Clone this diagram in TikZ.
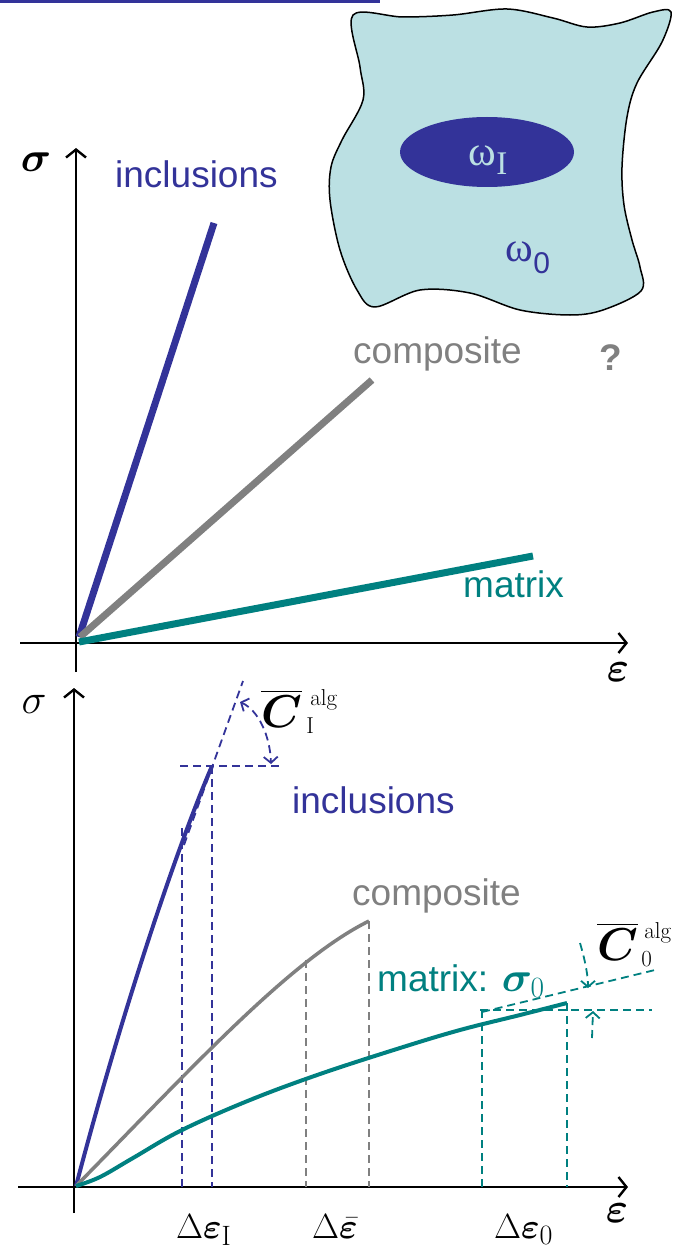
\RequirePackage{fix-cm}
\documentclass[tikz,border=0pt]{standalone}
\usepackage{amsmath}
\usepackage{bm}
\usepackage{fontspec}
\setsansfont{Liberation Sans}
\newfontfamily\greekserif{Liberation Serif}
\usetikzlibrary{arrows.meta, positioning, calc, shapes.geometric}
\definecolor{inclblue}{HTML}{333399}
\definecolor{compgray}{HTML}{808080}
\definecolor{matteal}{HTML}{008080}
\definecolor{domcyan}{HTML}{BBE0E3}
\tikzset{
  axisline/.style={line width=2.4pt, -{Straight Barb[length=8pt, width=20pt]}},
  fatline/.style={line width=7pt, draw=#1},
  curveln/.style={line width=4pt, draw=#1},
  dashln/.style={draw=#1, line width=1.8pt, dash pattern=on 8pt off 5pt},
  dasharr/.style={dashln=#1, -{Straight Barb[length=6pt, width=14pt]}},
  lbl/.style={font=\fontsize{37}{44}\selectfont\sffamily, inner sep=0pt, text=#1},
  mlbl/.style={font=\fontsize{42}{48}\selectfont, inner sep=0pt},
  dlbl/.style={font=\fontsize{35}{40}\selectfont, inner sep=0pt},
  alglbl/.style={font=\fontsize{46}{52}\selectfont, inner sep=0pt},
  scr/.style={font=\fontsize{23}{26}\selectfont\rmfamily, inner sep=0pt},
}
\newcommand{\dsub}[1]{\mbox{\fontsize{28}{28}\selectfont\rmfamily #1}}

\begin{document}
\begin{tikzpicture}[x=1pt, y=-1pt, line join=round]
  \useasboundingbox (0,0) rectangle (675,1252);
  \fill[inclblue] (0,0) rectangle (380,3);

  % domain with inclusion
  \draw[line width=1.5pt, fill=domcyan] plot[smooth cycle, tension=0.55] coordinates {
    (353,15) (403,17) (453,15) (507,9) (553,18) (587,27) (620,23) (653,12) (671,12)
    (662,42) (637,83) (627,117) (622,167) (624,205) (632,240) (640,267) (641,291)
    (603,310) (570,315) (520,310) (470,293) (420,290) (375,307)
    (357,290) (340,250) (330,200) (331,167) (342,140) (363,100) (360,67)};
  \node[ellipse, fill=inclblue, minimum width=174pt, minimum height=70pt, inner sep=0pt]
    (incl) at (487,152) {};
  \node[text=domcyan, inner sep=0pt] (omI) at (488,160)
    {{\greekserif\fontsize{42}{48}\selectfont ω}\raisebox{-9pt}{\greekserif\fontsize{33}{36}\selectfont I}};
  \node[text=inclblue, inner sep=0pt] (om0) at (528,258)
    {{\greekserif\fontsize{42}{48}\selectfont ω}\raisebox{-12pt}{\sffamily\fontsize{30}{36}\selectfont 0}};

  % upper diagram: linear response
  \coordinate (o1) at (77,643);
  \draw[axisline] (20,643) -- (628,643) coordinate (x1);
  \draw[axisline] (76,672) -- (76,148) coordinate (y1);
  \node[mlbl] (sig1) at (36,162) {$\bm{\sigma}$};
  \node[mlbl] (eps1) at (618,672) {$\bm{\varepsilon}$};

  \coordinate (incEnd) at (214,223);
  \coordinate (cmpEnd) at (372,380);
  \coordinate (matEnd) at (533,556);
  \draw[fatline=inclblue] (79,637) -- (incEnd);
  \draw[fatline=compgray] (80,637) -- (cmpEnd);
  \draw[fatline=matteal] (79,642) -- (matEnd);
  \node[lbl=inclblue, anchor=base west] (incLbl) at (115,188) {inclusions};
  \node[lbl=compgray, anchor=base west] (cmpLbl) at (353,363) {composite};
  \node[lbl=matteal, anchor=base west] (matLbl) at (463,597) {matrix};
  \node[lbl=compgray, anchor=base west, font=\fontsize{37}{44}\selectfont\sffamily\bfseries]
    (qm) at (599,370) {?};

  % lower diagram: nonlinear response
  \coordinate (o2) at (76,1186);
  \draw[axisline] (18,1187) -- (628,1187) coordinate (x2);
  \draw[axisline] (74,1213) -- (74,688) coordinate (y2);
  \node[mlbl] (sig2) at (34,704) {$\sigma$};
  \node[mlbl] (eps2) at (617,1213) {$\bm{\varepsilon}$};

  % inclusions
  \coordinate (incA) at (182,828);
  \coordinate (incB) at (212,766);
  \draw[dashln=inclblue] (incA) -- (182,1187);
  \draw[dashln=inclblue] (incB) -- (212,1187);
  \draw[dashln=inclblue] (180,766) -- (282,766);
  \draw[dashln=inclblue] (184,845) -- (243,681);
  \draw[curveln=inclblue] (o2) .. controls (125,1000) and (180,840) .. (incB);
  \draw[dasharr=inclblue, {Straight Barb[length=6pt, width=14pt]}-{Straight Barb[length=6pt, width=14pt]}]
    (240,702) .. controls (258,710) and (270,735) .. (271,764);
  \node[alglbl, anchor=base west] (cInc) at (261,727) {$\overline{\bm{C}}$};
  \node[scr, anchor=base west] (cIncSup) at ($(cInc.base east)+(8,-22)$) {alg};
  \node[scr, anchor=base west] (cIncSub) at ($(cInc.base east)+(4,6)$) {I};
  \node[lbl=inclblue, anchor=base west] (incLbl2) at (292,813) {inclusions};

  % composite
  \coordinate (cmpA) at (306,960);
  \coordinate (cmpB) at (369,921);
  \draw[dashln=compgray] (cmpA) -- (306,1187);
  \draw[dashln=compgray] (cmpB) -- (369,1187);
  \draw[line width=3.5pt, draw=compgray] (o2) .. controls (190,1070) and (290,960) .. (cmpB);
  \node[lbl=compgray, anchor=base west] (cmpLbl2) at (352,905) {composite};

  % matrix
  \coordinate (matB) at (567,1003);
  \draw[dashln=matteal] (482,1010) -- (482,1187);
  \draw[dashln=matteal] (matB) -- (567,1187);
  \draw[dashln=matteal] (480,1010) -- (652,1010);
  \draw[dashln=matteal] (482,1012) -- (655,970);
  \draw[curveln=matteal] plot[smooth, tension=0.6] coordinates {
    (o2) (100,1177) (133,1158) (182,1130) (250,1100) (320,1074) (400,1048)
    (460,1030) (520,1015) (matB)};
  \draw[dasharr=matteal] (580,943) .. controls (585,960) and (588,975) .. (588,988);
  \draw[dasharr=matteal] (592,1038) -- (593,1011);
  \node[lbl=matteal, anchor=base west] (matLbl2) at (377,991)
    {matrix: {\fontsize{42}{48}\selectfont$\bm{\sigma}_0$}};
  \node[alglbl, anchor=base west] (cMat) at (597,960) {$\overline{\bm{C}}$};
  \node[scr, anchor=base west] (cMatSup) at ($(cMat.base east)+(6,-22)$) {alg};
  \node[scr, anchor=base west] (cMatSub) at ($(cMat.base east)+(3,6)$) {0};

  % strain increments
  \node[dlbl, anchor=base west] (dEpsI) at (176,1238) {$\Delta\bm{\varepsilon}_{\dsub{I}}$};
  \node[dlbl, anchor=base west] (dEpsM) at (312,1238) {$\Delta\bar{\bm{\varepsilon}}$};
  \node[dlbl, anchor=base west] (dEps0) at (494,1238) {$\Delta\bm{\varepsilon}_{\dsub{0}}$};
\end{tikzpicture}
\end{document}
